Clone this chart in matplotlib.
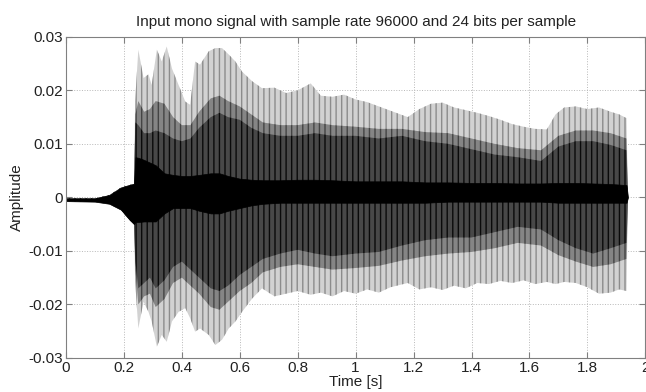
import numpy as np
import matplotlib
matplotlib.use("Agg")
import matplotlib.pyplot as plt

plt.rcParams['font.family'] = ['Liberation Sans', 'DejaVu Sans']
plt.rcParams['hatch.linewidth'] = 1.0

# outer (light grey) peaks of the waveform
t_outer = [0.0, 0.10, 0.15, 0.19, 0.22, 0.235,
           0.239, 0.250, 0.268, 0.285, 0.296, 0.314, 0.331, 0.348, 0.366, 0.389, 0.412,
           0.429, 0.446, 0.463, 0.493, 0.516, 0.539, 0.562, 0.585, 0.608, 0.643, 0.677,
           0.72, 0.76, 0.80, 0.845, 0.88, 0.92, 0.96, 1.00, 1.04, 1.08, 1.12, 1.18,
           1.22, 1.26, 1.30, 1.34, 1.38, 1.42, 1.46, 1.50, 1.54, 1.58, 1.62, 1.66,
           1.69, 1.72, 1.76, 1.80, 1.84, 1.88, 1.91, 1.935, 1.94]
outer_hi = [-0.0002, -0.0002, 0.0004, 0.0018, 0.0023, 0.0025,
            0.018, 0.0276, 0.0223, 0.023, 0.021, 0.0276, 0.0254, 0.0282, 0.0241, 0.021, 0.0179,
            0.0173, 0.0254, 0.0248, 0.0273, 0.0279, 0.0279, 0.0267, 0.0254, 0.0235, 0.0217, 0.0204,
            0.0205, 0.0195, 0.020, 0.0213, 0.019, 0.0188, 0.0192, 0.0183, 0.0178, 0.017, 0.0162, 0.015,
            0.0165, 0.0175, 0.0177, 0.0168, 0.0163, 0.0158, 0.0152, 0.0145, 0.0137, 0.0132, 0.0128, 0.0127,
            0.0155, 0.0168, 0.017, 0.0165, 0.0168, 0.016, 0.0155, 0.0148, 0.0]
outer_lo = [-0.0007, -0.0008, -0.0012, -0.0023, -0.0042, -0.005,
            -0.0157, -0.0245, -0.0195, -0.0214, -0.0232, -0.0279, -0.0257, -0.027, -0.0232, -0.0214, -0.0207,
            -0.0226, -0.0251, -0.0245, -0.0257, -0.0276, -0.0266, -0.0245, -0.0232, -0.0214, -0.0189, -0.017,
            -0.0185, -0.018, -0.0175, -0.0182, -0.0178, -0.0185, -0.0175, -0.018, -0.0172, -0.0178, -0.0168, -0.016,
            -0.0172, -0.0168, -0.0173, -0.0165, -0.017, -0.016, -0.0162, -0.0156, -0.016, -0.0155, -0.0162, -0.0158,
            -0.0162, -0.0158, -0.016, -0.0168, -0.018, -0.0178, -0.0172, -0.0175, 0.0]

# inner bands share one time grid
t = [0.0, 0.10, 0.15, 0.19, 0.22, 0.235, 0.24, 0.25, 0.27, 0.29, 0.31, 0.34,
     0.37, 0.40, 0.43, 0.46, 0.50, 0.53, 0.56, 0.60, 0.64, 0.68, 0.74, 0.80,
     0.86, 0.92, 1.00, 1.08, 1.16, 1.24, 1.32, 1.40, 1.48, 1.56, 1.64, 1.70,
     1.76, 1.82, 1.88, 1.935, 1.94]

# medium grey band
med_hi = [-0.0002, -0.0002, 0.0004, 0.0018, 0.0023, 0.0025, 0.0155, 0.018, 0.016, 0.0165, 0.018, 0.0175,
          0.015, 0.0135, 0.0135, 0.016, 0.0185, 0.019, 0.018, 0.017, 0.0155, 0.014, 0.0135, 0.0135,
          0.014, 0.0135, 0.0132, 0.0128, 0.0128, 0.0122, 0.012, 0.011, 0.010, 0.0092, 0.0088, 0.0115,
          0.0125, 0.0125, 0.012, 0.011, 0.0]
med_lo = [-0.0007, -0.0008, -0.0012, -0.0023, -0.0042, -0.005, -0.0135, -0.020, -0.0185, -0.018, -0.0205, -0.019,
          -0.016, -0.015, -0.0165, -0.018, -0.0205, -0.021, -0.0195, -0.0175, -0.016, -0.014, -0.013, -0.0125,
          -0.013, -0.0135, -0.0132, -0.0128, -0.0118, -0.011, -0.0105, -0.0102, -0.0095, -0.0085, -0.009, -0.0108,
          -0.012, -0.013, -0.0125, -0.0115, 0.0]

# dark grey band
mid_hi = [-0.0002, -0.0002, 0.0004, 0.0018, 0.0023, 0.0025, 0.014, 0.0135, 0.012, 0.012, 0.0125, 0.012,
          0.011, 0.0105, 0.011, 0.013, 0.015, 0.0158, 0.015, 0.0145, 0.013, 0.012, 0.0115, 0.0115,
          0.012, 0.0115, 0.0115, 0.011, 0.0115, 0.0105, 0.010, 0.009, 0.008, 0.0075, 0.0068, 0.0095,
          0.0105, 0.0105, 0.0098, 0.0088, 0.0]
mid_lo = [-0.0007, -0.0008, -0.0012, -0.0023, -0.0042, -0.005, -0.012, -0.017, -0.016, -0.015, -0.017, -0.0155,
          -0.013, -0.012, -0.0135, -0.015, -0.017, -0.0175, -0.0165, -0.0145, -0.013, -0.0115, -0.0105, -0.0098,
          -0.0105, -0.011, -0.0105, -0.0102, -0.009, -0.008, -0.0075, -0.0075, -0.0065, -0.0055, -0.006, -0.008,
          -0.0095, -0.0105, -0.0095, -0.0085, 0.0]

# black core
core_hi = [-0.0002, -0.0002, 0.0004, 0.0018, 0.0023, 0.0025, 0.0075, 0.0074, 0.007, 0.0065, 0.006, 0.0045,
           0.0042, 0.004, 0.004, 0.0042, 0.0045, 0.0045, 0.004, 0.0035, 0.0033, 0.0032, 0.0032, 0.0033,
           0.0033, 0.0032, 0.003, 0.003, 0.003, 0.0028, 0.0028, 0.0027, 0.0027, 0.0026, 0.0026, 0.0027,
           0.0027, 0.0026, 0.0025, 0.0023, 0.0]
core_lo = [-0.0007, -0.0008, -0.0012, -0.0023, -0.0042, -0.005, -0.0046, -0.0046, -0.0045, -0.0045, -0.0045, -0.003,
           -0.002, -0.002, -0.002, -0.0025, -0.003, -0.003, -0.0025, -0.002, -0.0015, -0.0012, -0.001, -0.001,
           -0.001, -0.001, -0.001, -0.001, -0.001, -0.001, -0.0008, -0.0008, -0.0008, -0.0008, -0.0008, -0.001,
           -0.001, -0.001, -0.001, -0.001, 0.0]

xticks = [0, 0.2, 0.4, 0.6, 0.8, 1, 1.2, 1.4, 1.6, 1.8, 2]
xticklabels = ['0', '0.2', '0.4', '0.6', '0.8', '1', '1.2', '1.4', '1.6', '1.8', '2']
yticks = [-0.03, -0.02, -0.01, 0, 0.01, 0.02, 0.03]
yticklabels = ['-0.03', '-0.02', '-0.01', '0', '0.01', '0.02', '0.03']

fig = plt.figure(figsize=(6.46, 3.92), dpi=100)
ax = fig.add_axes([0.102, 0.087, 0.897, 0.819])

ax.fill_between(t_outer, outer_lo, outer_hi, facecolor='#d2d2d2', edgecolor='#8c8c8c',
                hatch='|||', linewidth=0)
ax.fill_between(t, med_lo, med_hi, facecolor='#858585', edgecolor='#444444',
                hatch='|||', linewidth=0)
ax.fill_between(t, mid_lo, mid_hi, facecolor='#484848', edgecolor='#0a0a0a',
                hatch='|||', linewidth=0)
ax.fill_between(t, core_lo, core_hi, facecolor='black', edgecolor='black', linewidth=0.5)

ax.set_xlim(0, 2)
ax.set_ylim(-0.03, 0.03)
ax.set_xticks(xticks)
ax.set_xticklabels(xticklabels)
ax.set_yticks(yticks)
ax.set_yticklabels(yticklabels)
ax.tick_params(direction='in', top=True, right=True, labelsize=11, length=4,
               color='#808080', labelcolor='#222222', pad=2)
ax.grid(True, linestyle=':', color='#b8b8b8', linewidth=0.7)
ax.set_axisbelow(True)
for s in ax.spines.values():
    s.set_color('#808080')

ax.set_title('Input mono signal with sample rate 96000 and 24 bits per sample',
             fontsize=11, color='#222222', pad=8)
ax.set_xlabel('Time [s]', fontsize=11, color='#222222', labelpad=0)
ax.set_ylabel('Amplitude', fontsize=11, color='#222222', labelpad=3)

fig.savefig('out.png', dpi=100)
